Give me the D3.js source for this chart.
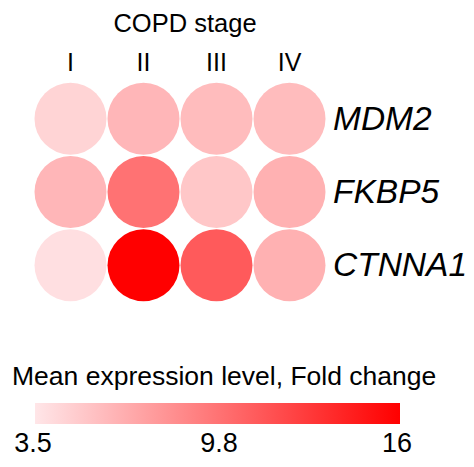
<!DOCTYPE html>
<html><head><meta charset="utf-8">
<script src="https://cdn.jsdelivr.net/npm/d3@7"></script>
<style>body{margin:0;background:#fff}svg{display:block;font-family:"Liberation Sans",Arial,sans-serif}</style>
</head><body><svg id="c" width="474" height="467"></svg>
<script>
const stages = ["I", "II", "III", "IV"];
const genes = ["MDM2", "FKBP5", "CTNNA1"];
const mdm2 = [4.5, 6.1, 5.8, 5.8];
const fkbp5 = [6.1, 9.8, 5.2, 6.4];
const ctnna1 = [3.9, 16.0, 11.1, 6.4];
const legendTicks = [3.5, 9.8, 16];
const colorDomain = [3.5, 16];

const rows = [mdm2, fkbp5, ctnna1];
const svg = d3.select("#c");
const x = d3.scaleBand().domain(stages).range([34, 326]).padding(0);
const y = d3.scaleBand().domain(genes).range([82, 302]).padding(0);
const color = d3.scaleLinear().domain(colorDomain).range(["#ffe6e8", "#ff0000"]);
const r = 36;

svg.append("text").attr("x", 185).attr("y", 32).attr("text-anchor", "middle")
  .attr("font-size", 25.5).text("COPD stage");

svg.selectAll("text.stage").data(stages).join("text").attr("class", "stage")
  .attr("x", d => x(d) + x.bandwidth() / 2).attr("y", 71).attr("text-anchor", "middle")
  .attr("font-size", 25).text(d => d);

genes.forEach((g, i) => {
  svg.selectAll("circle.r" + i).data(rows[i]).join("circle").attr("class", "r" + i)
    .attr("cx", (d, j) => x(stages[j]) + x.bandwidth() / 2)
    .attr("cy", y(g) + y.bandwidth() / 2)
    .attr("r", r).attr("fill", d => color(d));
});

svg.selectAll("text.gene").data(genes).join("text").attr("class", "gene")
  .attr("x", 333).attr("y", d => y(d) + y.bandwidth() / 2 + 11)
  .attr("font-size", 33.5).attr("font-style", "italic").text(d => d);

svg.append("text").attr("x", 12).attr("y", 385).attr("font-size", 26.5)
  .text("Mean expression level, Fold change");

const lx = d3.scaleLinear().domain(colorDomain).range([35, 400]);
const grad = svg.append("defs").append("linearGradient").attr("id", "g")
  .attr("x1", "0%").attr("x2", "100%");
d3.range(0, 1.0001, 0.1).forEach(t => {
  const v = colorDomain[0] + t * (colorDomain[1] - colorDomain[0]);
  grad.append("stop").attr("offset", (t * 100) + "%").attr("stop-color", color(v));
});
svg.append("rect").attr("x", lx(colorDomain[0])).attr("y", 403)
  .attr("width", lx(colorDomain[1]) - lx(colorDomain[0])).attr("height", 21)
  .attr("fill", "url(#g)");

svg.selectAll("text.tick").data(legendTicks).join("text").attr("class", "tick")
  .attr("x", (d, i) => lx(d) + [-2, 0, -3][i]).attr("y", 452).attr("text-anchor", "middle")
  .attr("font-size", 27).text(d => d);
</script></body></html>
